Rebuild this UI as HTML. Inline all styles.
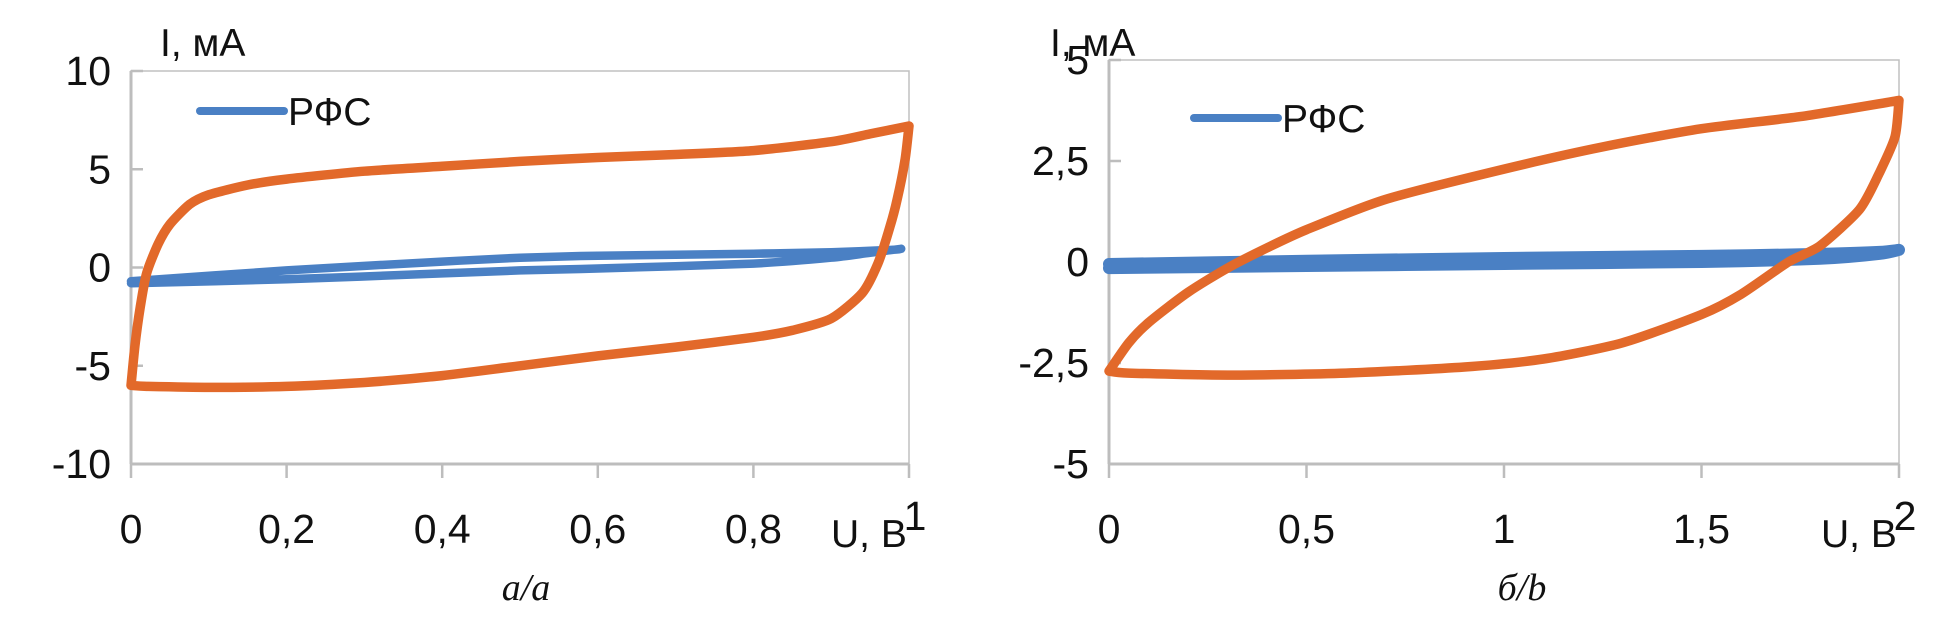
<!DOCTYPE html>
<html><head><meta charset="utf-8">
<style>
html,body{margin:0;padding:0;background:#fff;}
svg{display:block;}
text{font-family:"Liberation Sans Narrow","Liberation Sans",sans-serif;fill:#111;}
.cap{font-family:"Liberation Serif",serif;font-style:italic;}
</style></head>
<body>
<svg id="svg" width="1944" height="634" viewBox="0 0 1944 634" xmlns="http://www.w3.org/2000/svg"></svg>
<script>
// ---- chart A data ----
const aXTicks = [0, 0.2, 0.4, 0.6, 0.8, 1];
const aXTickLabels = ["0", "0,2", "0,4", "0,6", "0,8", "1"];
const aYTicks = [10, 5, 0, -5, -10];
const aYTickLabels = ["10", "5", "0", "-5", "-10"];
const aOrangeU = [0,0.005,0.012,0.02,0.035,0.05,0.075,0.1,0.15,0.2,0.3,0.4,0.5,0.6,0.7,0.8,0.9,0.95,1.0,0.995,0.985,0.975,0.96,0.94,0.9,0.85,0.8,0.7,0.6,0.5,0.4,0.3,0.2,0.1,0.02,0];
const aOrangeI = [-6.0,-4.0,-2.0,-0.3,1.2,2.2,3.2,3.7,4.2,4.5,4.9,5.15,5.4,5.6,5.75,5.95,6.4,6.8,7.2,5.5,3.5,2.0,0.2,-1.3,-2.6,-3.2,-3.55,-4.05,-4.5,-5.0,-5.5,-5.85,-6.05,-6.1,-6.05,-6.0];
const aBlueU = [0,0.2,0.4,0.5,0.6,0.8,0.9,0.98,0.99,0.95,0.9,0.8,0.6,0.5,0.4,0.2,0];
const aBlueI = [-0.7,-0.15,0.3,0.5,0.6,0.7,0.78,0.9,0.95,0.75,0.5,0.2,-0.05,-0.15,-0.3,-0.6,-0.8];
// ---- chart B data ----
const bXTicks = [0, 0.5, 1, 1.5, 2];
const bXTickLabels = ["0", "0,5", "1", "1,5", "2"];
const bYTicks = [5, 2.5, 0, -2.5, -5];
const bYTickLabels = ["5", "2,5", "0", "-2,5", "-5"];
const bOrangeU = [0,0.05,0.1,0.2,0.3,0.4,0.5,0.7,1.0,1.25,1.5,1.75,2.0,1.99,1.95,1.9,1.8,1.72,1.6,1.5,1.3,1.1,0.9,0.6,0.3,0.05,0];
const bOrangeI = [-2.7,-2.0,-1.5,-0.75,-0.15,0.35,0.8,1.55,2.3,2.85,3.3,3.6,4.0,3.1,2.2,1.3,0.4,0.0,-0.8,-1.3,-2.0,-2.4,-2.6,-2.75,-2.8,-2.75,-2.7];
const bBlueU = [0,0.5,1,1.5,1.8,1.95,2.0,1.95,1.8,1.5,1,0.5,0];
const bBlueI = [-0.05,0.03,0.1,0.15,0.2,0.25,0.3,0.2,0.08,0.0,-0.05,-0.1,-0.15];

const NS="http://www.w3.org/2000/svg";
const svg=document.getElementById('svg');
function mk(tag,attrs,parent){const e=document.createElementNS(NS,tag);for(const k in attrs)e.setAttribute(k,attrs[k]);(parent||svg).appendChild(e);return e;}
function seg(pts){let d='M'+pts[0][0].toFixed(1)+','+pts[0][1].toFixed(1);const t=0.12;for(let i=0;i<pts.length-1;i++){const p0=pts[Math.max(0,i-1)],p1=pts[i],p2=pts[i+1],p3=pts[Math.min(pts.length-1,i+2)];const c1=[p1[0]+(p2[0]-p0[0])*t,p1[1]+(p2[1]-p0[1])*t],c2=[p2[0]-(p3[0]-p1[0])*t,p2[1]-(p3[1]-p1[1])*t];d+=' C'+c1[0].toFixed(1)+','+c1[1].toFixed(1)+' '+c2[0].toFixed(1)+','+c2[1].toFixed(1)+' '+p2[0].toFixed(1)+','+p2[1].toFixed(1);}return d;}
function branches(pts){let k=0;pts.forEach((p,i)=>{if(p[0]>pts[k][0])k=i;});return seg(pts.slice(0,k+1))+' '+seg(pts.slice(k));}

function chart(o){
  const g=mk('g',{});
  
  
  const sx=v=>o.x0+(v-o.xmin)/(o.xmax-o.xmin)*(o.x1-o.x0);
  const sy=v=>o.y1-(v-o.ymin)/(o.ymax-o.ymin)*(o.y1-o.y0);
  const frame=mk('rect',{x:o.x0,y:o.y0,width:o.x1-o.x0,height:o.y1-o.y0,fill:'none',stroke:'#c0c0c0','stroke-width':1.5},g);
  
  
  const ya=mk('line',{x1:o.x0,y1:o.y0,x2:o.x0,y2:o.y1,stroke:'#bdbdbd','stroke-width':3},g);
  
  
  const xa=mk('line',{x1:o.x0,y1:o.y1,x2:o.x1,y2:o.y1,stroke:'#bdbdbd','stroke-width':3},g);
  
  
  o.yt.forEach((v,i)=>{
    const t=mk('line',{x1:o.x0,y1:sy(v),x2:o.x0+12,y2:sy(v),stroke:'#bdbdbd','stroke-width':2.5},g);
    
    
    const l=mk('text',{x:o.x0-20,y:sy(v)+14,'text-anchor':'end','font-size':41},g);
    l.textContent=o.ytl[i];
    
    
  });
  o.xt.forEach((v,i)=>{
    const t=mk('line',{x1:sx(v),y1:o.y1,x2:sx(v),y2:o.y1+14,stroke:'#bdbdbd','stroke-width':2.5},g);
    
    
    const last=i===o.xt.length-1;
    const l=mk('text',{x:sx(v)+(last?6:0),y:last?530:543,'text-anchor':'middle','font-size':41},g);
    l.textContent=o.xtl[i];
    
    
  });
  const ob=mk('path',{d:branches(o.bu.map((u,i)=>[sx(u),sy(o.bi[i])])),fill:'none',stroke:'#4a80c4','stroke-width':o.bw,'stroke-linecap':'round','stroke-linejoin':'round'},g);
  
  
  const oo=mk('path',{d:branches(o.ou.map((u,i)=>[sx(u),sy(o.oi[i])])),fill:'none',stroke:'#e2692a','stroke-width':9.5,'stroke-linecap':'round','stroke-linejoin':'round'},g);
  
  
  const ll=mk('line',{x1:o.lx,y1:o.ly,x2:o.lx+84,y2:o.ly,stroke:'#4a80c4','stroke-width':8,'stroke-linecap':'round'},g);
  
  
  const lt=mk('text',{x:o.lx+88,y:o.ly+14,'font-size':39},g);
  lt.textContent='РФС';
  
  
  const yt=mk('text',{x:o.ytx,y:56,'font-size':39},g);
  yt.textContent='I, мА';
  
  
  const xt=mk('text',{x:o.x1-78,y:547,'font-size':39},g);
  xt.textContent='U, В';
  
  
  const cp=mk('text',{x:o.capx,y:600,'text-anchor':'middle','font-size':38,'class':'cap'},g);
  cp.textContent=o.cap;
  
  
}
chart({name:'chart-a',x0:131,x1:909,y0:71,y1:464,xmin:0,xmax:1,ymin:-10,ymax:10,xt:aXTicks,xtl:aXTickLabels,yt:aYTicks,ytl:aYTickLabels,ou:aOrangeU,oi:aOrangeI,bu:aBlueU,bi:aBlueI,bw:8.5,lx:200,ly:111,ytx:160,capx:526,cap:'а/а'});
chart({name:'chart-b',x0:1109,x1:1899,y0:60,y1:464,xmin:0,xmax:2,ymin:-5,ymax:5,xt:bXTicks,xtl:bXTickLabels,yt:bYTicks,ytl:bYTickLabels,ou:bOrangeU,oi:bOrangeI,bu:bBlueU,bi:bBlueI,bw:12,lx:1194,ly:118,ytx:1050,capx:1522,cap:'б/b'});
</script>
</body></html>
